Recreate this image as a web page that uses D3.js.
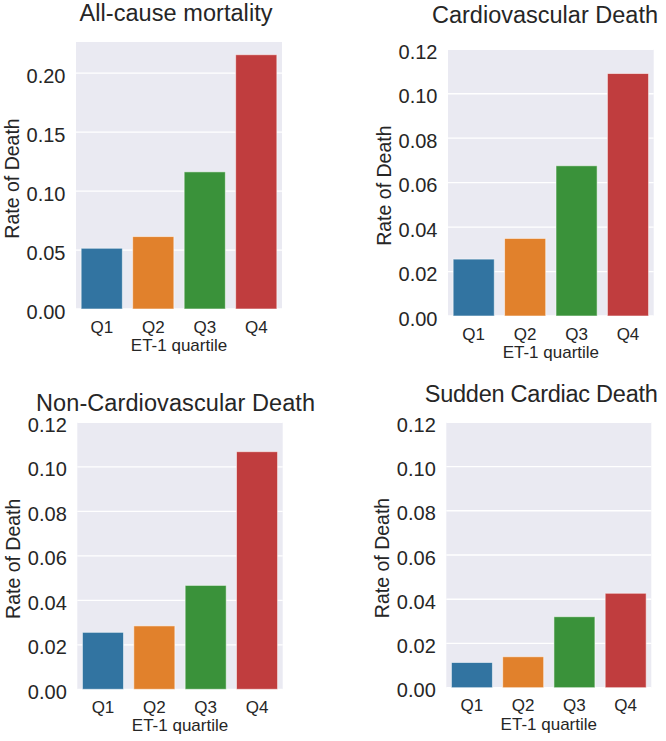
<!DOCTYPE html>
<html>
<head>
<meta charset="utf-8">
<script src="https://cdn.jsdelivr.net/npm/d3@7"></script>
<style>
  html, body { margin: 0; padding: 0; background: #ffffff; }
  svg { display: block; font-family: "Liberation Sans", Arial, Helvetica, sans-serif; }
</style>
</head>
<body>
<svg id="chart" width="666" height="741"></svg>
<script>
// ---------------- data ----------------
const categories = ["Q1", "Q2", "Q3", "Q4"];
const allCause = [0.0515, 0.0614, 0.1163, 0.2156];
const cardiovascular = [0.0256, 0.0349, 0.0676, 0.1091];
const nonCardiovascular = [0.0256, 0.0285, 0.0467, 0.1068];
const suddenCardiac = [0.0114, 0.0140, 0.0321, 0.0427];
const panelTitles = ["All-cause mortality", "Cardiovascular Death", "Non-Cardiovascular Death", "Sudden Cardiac Death"];
const allCauseTicks = [0, 0.05, 0.10, 0.15, 0.20];
const rateTicks = [0, 0.02, 0.04, 0.06, 0.08, 0.10, 0.12];
const yLabel = "Rate of Death";
const xLabel = "ET-1 quartile";
const barColors = ["#3274a1", "#e1812c", "#3a923a", "#c03d3e"];

// ---------------- layout ----------------
const panels = [
  { values: allCause, ticks: allCauseTicks, yMax: d3.max(allCause) * 1.05,
    box: { l: 76, r: 282, t: 42, b: 309 }, title: { x: 176, y: 20.7, w: 193 } },
  { values: cardiovascular, ticks: rateTicks, yMax: 0.12,
    box: { l: 448, r: 653.7, t: 49.3, b: 316 }, title: { x: 545, y: 23.3, w: 226 } },
  { values: nonCardiovascular, ticks: rateTicks, yMax: 0.12,
    box: { l: 77.3, r: 282.7, t: 422.3, b: 689.3 }, title: { x: 175.5, y: 410.7, w: 279 } },
  { values: suddenCardiac, ticks: rateTicks, yMax: 0.12,
    box: { l: 446.3, r: 651.3, t: 422.3, b: 687.7 }, title: { x: 541.3, y: 401.7, w: 233 } }
];

const textColor = "#262626";
const svg = d3.select("#chart");

panels.forEach((p, i) => {
  const b = p.box;
  const g = svg.append("g");

  const x = d3.scaleBand().domain(categories).range([b.l, b.r]).paddingInner(0.2).paddingOuter(0.1);
  const y = d3.scaleLinear().domain([0, p.yMax]).range([b.b, b.t]);

  // background
  g.append("rect")
    .attr("x", b.l).attr("y", b.t)
    .attr("width", b.r - b.l).attr("height", b.b - b.t)
    .attr("fill", "#eaeaf2");

  // horizontal grid lines
  g.append("g").selectAll("line").data(p.ticks).join("line")
    .attr("x1", b.l).attr("x2", b.r)
    .attr("y1", d => y(d)).attr("y2", d => y(d))
    .attr("stroke", "#ffffff").attr("stroke-width", 1.3);

  // bars
  g.append("g").selectAll("rect").data(p.values).join("rect")
    .attr("x", (d, j) => x(categories[j]))
    .attr("width", x.bandwidth())
    .attr("y", d => y(d))
    .attr("height", d => y(0) - y(d))
    .attr("fill", (d, j) => barColors[j])
    .attr("stroke", "#ffffff").attr("stroke-opacity", 0.55).attr("stroke-width", 1);

  // y axis
  const yAxis = d3.axisLeft(y).tickValues(p.ticks).tickFormat(d3.format(".2f")).tickSize(0).tickPadding(10.5);
  const ya = g.append("g").attr("transform", `translate(${b.l},0)`).call(yAxis);
  ya.select(".domain").remove();
  ya.selectAll("text")
    .attr("fill", textColor)
    .attr("font-size", "20px")
    .attr("font-family", "'Liberation Sans', Arial, sans-serif")
    .attr("dy", "0.45em");

  // x axis
  const xAxis = d3.axisBottom(x).tickSize(0).tickPadding(11.5);
  const xa = g.append("g").attr("transform", `translate(0,${b.b})`).call(xAxis);
  xa.select(".domain").remove();
  xa.selectAll("text")
    .attr("fill", textColor)
    .attr("font-size", "17px")
    .attr("font-family", "'Liberation Sans', Arial, sans-serif")
    .attr("dy", "0.71em");

  // x label
  g.append("text")
    .attr("x", (b.l + b.r) / 2).attr("y", b.b + 42)
    .attr("text-anchor", "middle")
    .attr("fill", textColor)
    .attr("font-size", "17px")
    .text(xLabel);

  // y label
  g.append("text")
    .attr("transform", `translate(${b.l - 57},${(b.t + b.b) / 2 + 3}) rotate(-90)`)
    .attr("text-anchor", "middle")
    .attr("fill", textColor)
    .attr("font-size", "19.5px")
    .text(yLabel);

  // title
  g.append("text")
    .attr("x", p.title.x).attr("y", p.title.y)
    .attr("text-anchor", "middle")
    .attr("fill", textColor)
    .attr("font-size", "23.5px")
    .attr("textLength", p.title.w)
    .attr("lengthAdjust", "spacing")
    .text(panelTitles[i]);
});
</script>
</body>
</html>
